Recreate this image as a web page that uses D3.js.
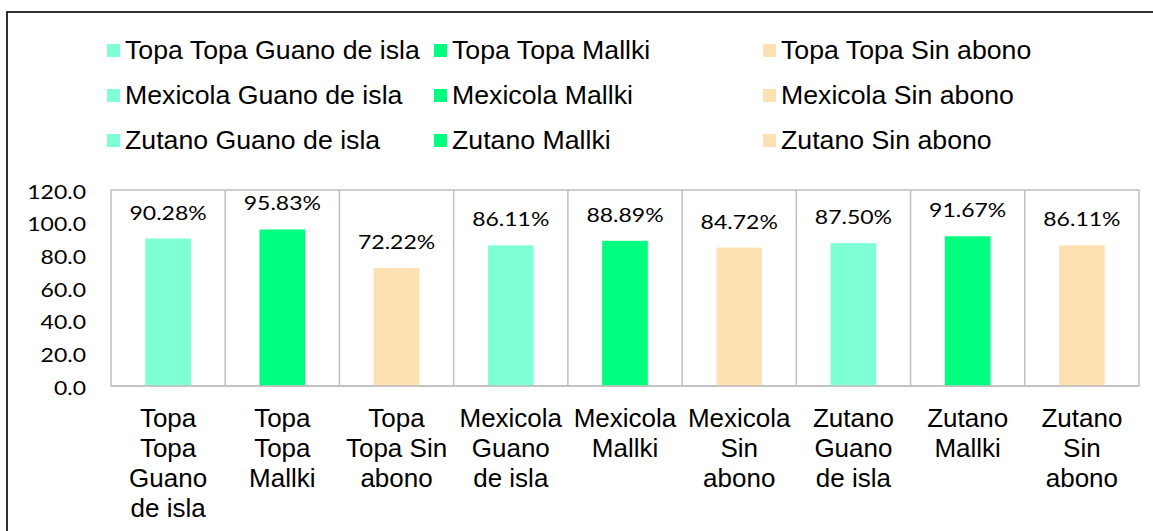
<!DOCTYPE html>
<html>
<head>
<meta charset="utf-8">
<script src="https://cdn.jsdelivr.net/npm/d3@7"></script>
<style>
  html, body { margin: 0; padding: 0; background: #fff; }
  svg { display: block; }
</style>
</head>
<body>
<svg id="chart" width="1153" height="531"></svg>
<script>
// ---- data ----
const categories = [
  "Topa Topa Guano de isla", "Topa Topa Mallki", "Topa Topa Sin abono",
  "Mexicola Guano de isla", "Mexicola Mallki", "Mexicola Sin abono",
  "Zutano Guano de isla", "Zutano Mallki", "Zutano Sin abono"
];
const categoryLines = [
  ["Topa", "Topa", "Guano", "de isla"],
  ["Topa", "Topa", "Mallki"],
  ["Topa", "Topa Sin", "abono"],
  ["Mexicola", "Guano", "de isla"],
  ["Mexicola", "Mallki"],
  ["Mexicola", "Sin", "abono"],
  ["Zutano", "Guano", "de isla"],
  ["Zutano", "Mallki"],
  ["Zutano", "Sin", "abono"]
];
const values = [90.28, 95.83, 72.22, 86.11, 88.89, 84.72, 87.50, 91.67, 86.11];
const treatments = ["Guano de isla", "Mallki", "Sin abono"];
const categoryTreatment = [0, 1, 2, 0, 1, 2, 0, 1, 2];
const yTicks = [0, 20, 40, 60, 80, 100, 120];

// ---- style / layout ----
const treatmentColors = ["#7FFFD4", "#00FF7F", "#FFE0B0"];
const plot = { left: 111, right: 1139, top: 190, bottom: 386 };
const calibriLike = "Lato, 'Open Sans', sans-serif";
const arialLike = "'Liberation Sans', Arial, sans-serif";

const svg = d3.select("#chart");

// outer frame
svg.append("rect")
  .attr("x", 7).attr("y", 12)
  .attr("width", 1160).attr("height", 540)
  .attr("fill", "none").attr("stroke", "#000").attr("stroke-width", 1.6);

const x = d3.scaleBand().domain(categories).range([plot.left, plot.right]).padding(0);
const y = d3.scaleLinear().domain([0, 120]).range([plot.bottom, plot.top]);

// plot-area borders + category separators
const grid = svg.append("g").attr("stroke", "#BFBFBF").attr("stroke-width", 1.5).attr("fill", "none");
grid.append("rect")
  .attr("x", plot.left).attr("y", plot.top)
  .attr("width", plot.right - plot.left).attr("height", plot.bottom - plot.top);
grid.selectAll("line.sep")
  .data(categories.slice(1))
  .join("line")
  .attr("x1", d => x(d)).attr("x2", d => x(d))
  .attr("y1", plot.top).attr("y2", plot.bottom);

// bars
const barW = x.bandwidth() * 0.4;
svg.append("g").selectAll("rect")
  .data(categories)
  .join("rect")
  .attr("x", d => x(d) + (x.bandwidth() - barW) / 2)
  .attr("width", barW)
  .attr("y", (d, i) => y(values[i]))
  .attr("height", (d, i) => y(0) - y(values[i]))
  .attr("fill", (d, i) => treatmentColors[categoryTreatment[i]]);

// bottom axis line over bars
svg.append("line")
  .attr("x1", plot.left).attr("x2", plot.right)
  .attr("y1", plot.bottom).attr("y2", plot.bottom)
  .attr("stroke", "#BFBFBF").attr("stroke-width", 1.5);

// data labels
const fmtPct = d3.format(".2f");
svg.append("g").selectAll("text")
  .data(categories)
  .join("text")
  .attr("transform", (d, i) => `translate(${x(d) + x.bandwidth() / 2},${y(values[i]) - 19}) scale(1.15,1)`)
  .attr("text-anchor", "middle")
  .attr("font-family", calibriLike)
  .attr("font-size", 20)
  .attr("fill", "#000")
  .text((d, i) => fmtPct(values[i]) + "%");

// y axis
const yAxis = d3.axisLeft(y).tickValues(yTicks).tickSize(0).tickFormat(d3.format(".1f"));
const yg = svg.append("g").attr("transform", `translate(${plot.left},0)`).call(yAxis);
yg.select(".domain").remove();
yg.selectAll("text")
  .attr("x", null).attr("dy", null)
  .attr("transform", "translate(-25,8) scale(1.15,1)")
  .attr("text-anchor", "end")
  .attr("font-family", calibriLike)
  .attr("font-size", 20)
  .attr("fill", "#000");

// x category labels
const xl = svg.append("g");
categories.forEach((c, i) => {
  const cx = x(c) + x.bandwidth() / 2;
  const t = xl.append("text")
    .attr("text-anchor", "middle")
    .attr("font-family", arialLike)
    .attr("font-size", 26)
    .attr("fill", "#000");
  categoryLines[i].forEach((line, j) => {
    t.append("tspan").attr("x", cx).attr("y", 427 + j * 30).text(line);
  });
});

// legend (3 columns x 3 rows, row-major)
const legendColX = [107, 434, 763];
const legendRowY = [59, 104, 149];
const lg = svg.append("g");
categories.forEach((c, i) => {
  const col = i % 3, row = Math.floor(i / 3);
  const g = lg.append("g").attr("transform", `translate(${legendColX[col]},${legendRowY[row]})`);
  g.append("rect").attr("x", 0).attr("y", -15).attr("width", 13).attr("height", 13)
    .attr("fill", treatmentColors[categoryTreatment[i]]);
  g.append("text").attr("x", 18).attr("y", 0)
    .attr("font-family", arialLike).attr("font-size", 26.7).attr("fill", "#000")
    .text(c);
});
</script>
</body>
</html>
